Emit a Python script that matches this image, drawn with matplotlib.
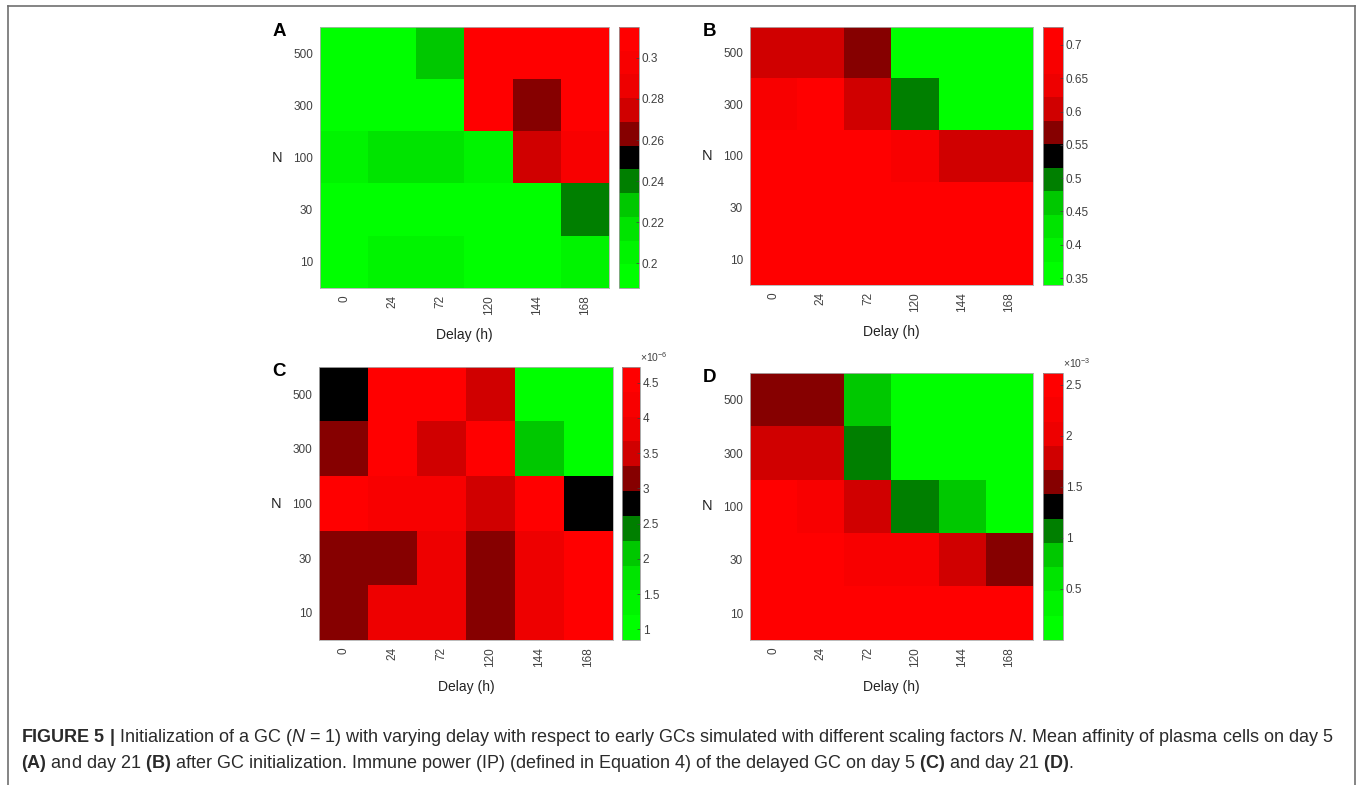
import numpy as np
import matplotlib
matplotlib.use('Agg')
import matplotlib.pyplot as plt
from matplotlib.colors import ListedColormap, Normalize
from matplotlib.lines import Line2D

plt.rcParams['font.family'] = ['Liberation Sans', 'DejaVu Sans']
plt.rcParams['mathtext.fontset'] = 'custom'
plt.rcParams['mathtext.rm'] = 'Liberation Sans'
plt.rcParams['mathtext.it'] = 'Liberation Sans:italic'
plt.rcParams['mathtext.bf'] = 'Liberation Sans:bold'

delays = ['0', '24', '72', '120', '144', '168']
n_values = ['500', '300', '100', '30', '10']

# mean affinity of plasma cells, day 5 (A) and day 21 (B)
aff_day5 = [
    [0.193, 0.195, 0.229, 0.310, 0.309, 0.308],
    [0.194, 0.196, 0.195, 0.310, 0.263, 0.308],
    [0.205, 0.216, 0.217, 0.204, 0.275, 0.297],
    [0.192, 0.193, 0.194, 0.193, 0.194, 0.240],
    [0.194, 0.205, 0.206, 0.195, 0.194, 0.204],
]
aff_day21 = [
    [0.603, 0.605, 0.568, 0.356, 0.358, 0.357],
    [0.690, 0.695, 0.604, 0.497, 0.356, 0.357],
    [0.705, 0.706, 0.704, 0.680, 0.610, 0.612],
    [0.710, 0.712, 0.711, 0.713, 0.712, 0.714],
    [0.714, 0.715, 0.713, 0.716, 0.715, 0.717],
]
# immune power of the delayed GC, day 5 (C, x1e-6) and day 21 (D, x1e-3)
ip_day5 = np.array([
    [2.80, 4.55, 4.50, 3.50, 1.00, 1.02],
    [3.15, 4.55, 3.48, 4.60, 2.05, 1.05],
    [4.55, 4.20, 4.18, 3.50, 4.52, 2.78],
    [3.12, 3.15, 3.85, 3.10, 3.82, 4.50],
    [3.13, 3.84, 3.86, 3.12, 3.83, 4.55],
]) * 1e-6
ip_day21 = np.array([
    [1.55, 1.56, 0.83, 0.12, 0.10, 0.11],
    [1.79, 1.80, 1.07, 0.12, 0.11, 0.10],
    [2.50, 2.27, 1.78, 1.06, 0.84, 0.12],
    [2.52, 2.49, 2.26, 2.25, 1.80, 1.55],
    [2.55, 2.56, 2.54, 2.57, 2.55, 2.53],
]) * 1e-3

cmap = ListedColormap(['#00ff00', '#00f400', '#00e400', '#00c800', '#007f00',
                       '#000000', '#860000', '#d00000', '#ee0000', '#f80000', '#ff0000'])

W, H = 1357, 785
fig = plt.figure(figsize=(W / 100, H / 100), dpi=100)

def box(x0, y0, x1, y1):
    return [x0 / W, 1 - y1 / H, (x1 - x0) / W, (y1 - y0) / H]

panels = [
    ('A', aff_day5, 0.188, 0.315, [0.2, 0.22, 0.24, 0.26, 0.28, 0.3], 1, None,
     (320, 27, 609, 288), (619, 639)),
    ('B', aff_day21, 0.3395, 0.727, [0.35, 0.4, 0.45, 0.5, 0.55, 0.6, 0.65, 0.7], 1, None,
     (750, 27, 1033, 285), (1043, 1063)),
    ('C', ip_day5, 0.85e-6, 4.72e-6, [1e-6, 1.5e-6, 2e-6, 2.5e-6, 3e-6, 3.5e-6, 4e-6, 4.5e-6], 1e-6, '-6',
     (319, 367, 613, 640), (622, 640)),
    ('D', ip_day21, 0.0, 2.615e-3, [0.5e-3, 1e-3, 1.5e-3, 2e-3, 2.5e-3], 1e-3, '-3',
     (750, 373, 1033, 640), (1043, 1063)),
]

tick_col = '#404040'
for letter, data, vmin, vmax, ticks, scale, expo, (x0, y0, x1, y1), (c0, c1) in panels:
    ax = fig.add_axes(box(x0, y0, x1, y1))
    im = ax.imshow(np.array(data), cmap=cmap, norm=Normalize(vmin, vmax),
                   aspect='auto', interpolation='nearest')
    ax.set_xticks(range(len(delays)))
    ax.set_xticklabels(delays, rotation=90)
    ax.set_yticks(range(len(n_values)))
    ax.set_yticklabels(n_values)
    ax.tick_params(length=0, labelsize=8.5, colors=tick_col, pad=5)
    for s in ax.spines.values():
        s.set_color('#b0b0b0')
        s.set_linewidth(0.6)

    cax = fig.add_axes(box(c0, y0, c1, y1))
    cb = fig.colorbar(im, cax=cax)
    cb.set_ticks(ticks)
    cb.set_ticklabels(['%g' % round(t / scale, 3) for t in ticks])
    cax.tick_params(length=2, width=0.5, direction='in', labelsize=8.5, colors=tick_col, pad=2)
    cb.outline.set_edgecolor('#9a9a9a')
    cb.outline.set_linewidth(0.6)
    if expo:
        cax.text(1.0, 1.012, r'$\times10^{%s}$' % expo, transform=cax.transAxes,
                 ha='left', va='bottom', fontsize=7.5, color=tick_col)

    fig.text((x0 - 48) / W, 1 - (y0 + y1) / 2 / H, 'N', fontsize=10.5,
             ha='left', va='center', color='#222222')
    fig.text((x0 + x1) / 2 / W, 1 - (y1 + 47) / H, 'Delay (h)', fontsize=10,
             ha='center', va='center', color='#222222')
    fig.text((x0 - 47) / W, 1 - (y0 + 5) / H, letter, fontsize=13.5, fontweight='bold',
             ha='left', va='center', color='black')

# frame around the figure
fr = '#707070'
fig.add_artist(Line2D([8 / W, 1355 / W], [1 - 6 / H, 1 - 6 / H], color=fr, lw=1.2))
fig.add_artist(Line2D([8 / W, 8 / W], [0, 1 - 6 / H], color=fr, lw=1.2))
fig.add_artist(Line2D([1355 / W, 1355 / W], [0, 1 - 6 / H], color=fr, lw=1.2))

cap_col = '#2a2a2a'
line1 = (r'$\mathbf{FIGURE\ 5\ |}$ Initialization of a GC ($\mathit{N}$ = 1) with varying delay '
         r'with respect to early GCs simulated with different scaling factors $\mathit{N}$. '
         r'Mean affinity of plasma cells on day 5')
line2 = (r'$\mathbf{(A)}$ and day 21 $\mathbf{(B)}$ after GC initialization. Immune power (IP) '
         r'(defined in Equation 4) of the delayed GC on day 5 $\mathbf{(C)}$ and day 21 $\mathbf{(D)}$.')
fig.text(21 / W, 1 - 737 / H, line1, fontsize=13, ha='left', va='center', color=cap_col)
fig.text(21 / W, 1 - 763 / H, line2, fontsize=13, ha='left', va='center', color=cap_col)

fig.savefig('out.png', dpi=100)
